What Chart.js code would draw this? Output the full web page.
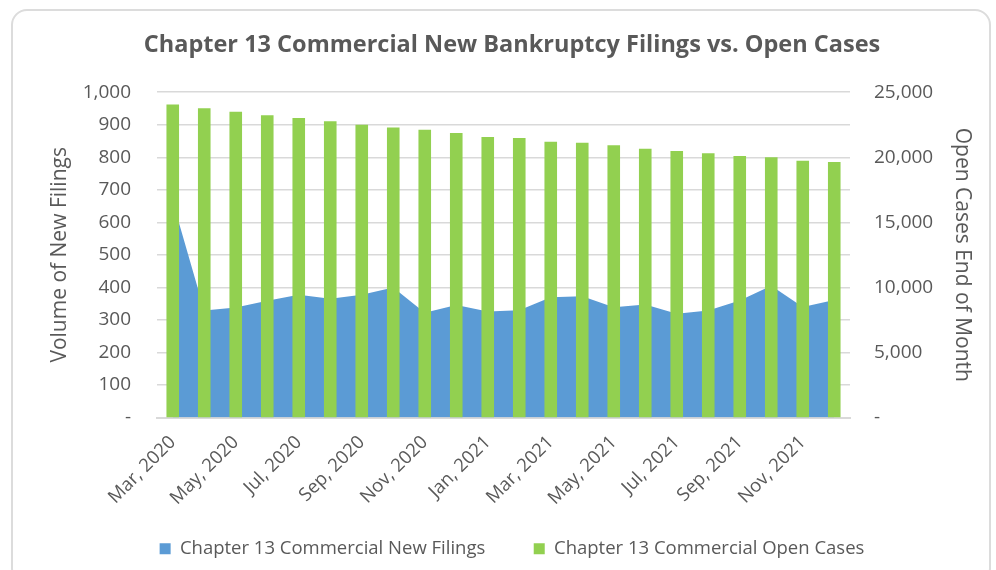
<!DOCTYPE html>
<html>
<head>
<meta charset="utf-8">
<script src="https://cdn.jsdelivr.net/npm/chart.js@4.4.0/dist/chart.umd.min.js"></script>
<style>
  html, body { margin: 0; padding: 0; background: #fff; }
  #wrap { position: relative; width: 996px; height: 570px; overflow: hidden; }
  #card {
    position: absolute; left: 11px; top: 9px; width: 980px; height: 575px;
    border: 2px solid #dcdcdc; border-radius: 16px; box-sizing: border-box;
  }
  #chart { position: absolute; left: 0; top: 0; }
</style>
</head>
<body>
<div id="wrap">
  <div id="card"></div>
  <canvas id="chart" width="996" height="570"></canvas>
</div>
<script>
const months = [
  'Mar, 2020', 'Apr, 2020', 'May, 2020', 'Jun, 2020', 'Jul, 2020', 'Aug, 2020',
  'Sep, 2020', 'Oct, 2020', 'Nov, 2020', 'Dec, 2020', 'Jan, 2021', 'Feb, 2021',
  'Mar, 2021', 'Apr, 2021', 'May, 2021', 'Jun, 2021', 'Jul, 2021', 'Aug, 2021',
  'Sep, 2021', 'Oct, 2021', 'Nov, 2021', 'Dec, 2021'
];
const newFilings = [665, 329, 338, 359, 377, 365, 377, 400, 322, 346, 326, 330,
  370, 373, 339, 347, 319, 329, 360, 405, 340, 361];
const openCases = [24050, 23770, 23490, 23230, 23020, 22770, 22490, 22280, 22120, 21870, 21560, 21480,
  21200, 21120, 20920, 20660, 20480, 20300, 20100, 20000, 19740, 19640];

const textColor = '#595959';
const gridColor = '#d9d9d9';
const font = 'Open Sans';

function fmt(v) {
  return v === 0 ? '-' : v.toLocaleString('en-US');
}

new Chart(document.getElementById('chart'), {
  type: 'bar',
  data: {
    labels: months,
    datasets: [
      {
        type: 'line',
        label: 'Chapter 13 Commercial New Filings',
        data: newFilings,
        yAxisID: 'y',
        fill: 'origin',
        backgroundColor: '#5b9bd5',
        borderColor: '#5b9bd5',
        borderWidth: 0,
        pointRadius: 0,
        tension: 0,
        order: 2
      },
      {
        label: 'Chapter 13 Commercial Open Cases',
        data: openCases,
        yAxisID: 'y2',
        backgroundColor: '#92d050',
        borderWidth: 0,
        barPercentage: 0.4,
        categoryPercentage: 1,
        order: 1
      }
    ]
  },
  options: {
    responsive: false,
    animation: false,
    layout: { padding: { left: 28, right: 0, top: 0, bottom: 2 } },
    plugins: {
      title: {
        display: true,
        text: 'Chapter 13 Commercial New Bankruptcy Filings vs. Open Cases',
        color: textColor,
        font: { family: font, size: 23.5, weight: '700' },
        padding: { top: 31, bottom: 33 }
      },
      legend: {
        position: 'bottom',
        labels: {
          color: textColor,
          font: { family: font, size: 18.5 },
          boxWidth: 11,
          boxHeight: 11,
          padding: 10,
          sort: (a, b) => a.datasetIndex - b.datasetIndex,
          generateLabels: function (chart) {
            const items = Chart.defaults.plugins.legend.labels.generateLabels(chart);
            items.forEach(it => {
              if (it.datasetIndex === 0) it.text += '\u00a0\u00a0\u00a0\u00a0\u00a0\u00a0\u00a0\u00a0';
            });
            return items;
          }
        }
      },
      tooltip: { enabled: false }
    },
    scales: {
      x: {
        grid: { display: false },
        border: { display: true, color: gridColor, width: 2 },
        ticks: {
          color: textColor,
          font: { family: font, size: 18.5 },
          autoSkip: false,
          minRotation: 45,
          maxRotation: 45,
          padding: 6,
          callback: function (v, i) { return i % 2 === 0 ? months[i] : ''; }
        },
        afterFit: function (s) { s.height = 112; }
      },
      y: {
        position: 'left',
        min: 0,
        max: 1000,
        grid: { color: gridColor, lineWidth: 1.5, drawTicks: false },
        border: { display: false },
        ticks: {
          stepSize: 100,
          color: textColor,
          font: { family: font, size: 19 },
          padding: 26,
          callback: fmt
        },
        title: {
          display: true,
          text: 'Volume of New Filings',
          color: textColor,
          font: { family: font, size: 21 },
          padding: { top: 19, bottom: 0 }
        },
        afterFit: function (s) { s.width = 129; }
      },
      y2: {
        position: 'right',
        min: 0,
        max: 25000,
        grid: { display: false, drawTicks: false },
        border: { display: false },
        ticks: {
          stepSize: 5000,
          color: textColor,
          font: { family: font, size: 19 },
          padding: 24,
          callback: fmt
        },
        title: {
          display: true,
          text: 'Open Cases End of Month',
          color: textColor,
          font: { family: font, size: 21 },
          padding: { top: 21, bottom: 0 }
        },
        afterFit: function (s) { s.width = 146; }
      }
    }
  }
});
</script>
</body>
</html>
